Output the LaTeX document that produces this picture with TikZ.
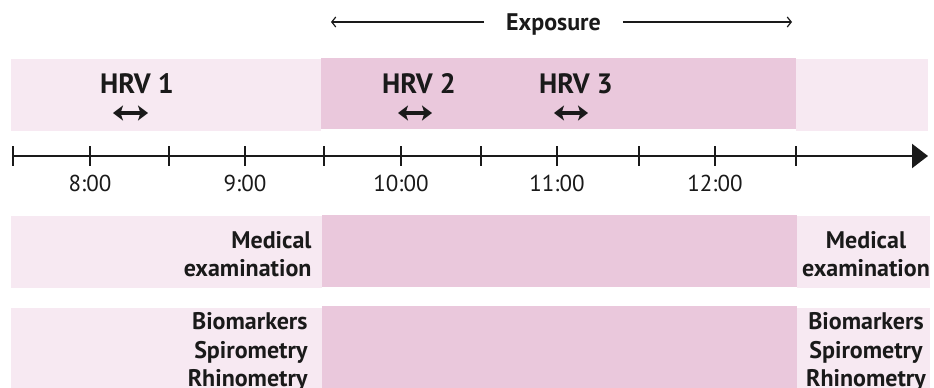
\documentclass[tikz,border=0pt]{standalone}
\usepackage{fontspec}
\setsansfont{PT Sans}
\usetikzlibrary{arrows.meta, positioning}
\definecolor{cpinklight}{HTML}{F7E9F2}
\definecolor{cpink}{HTML}{EAC8DC}
\definecolor{cink}{HTML}{1A1A1A}
\tikzset{
  every picture/.style={font=\sffamily, line width=1pt},
  band/.style={fill=#1, draw=none, inner sep=0pt, outer sep=0pt, anchor=north west},
  band/.default=cpinklight,
  lbl/.style={font=\sffamily\bfseries\fontsize{24}{28.5}\selectfont, text=cink, inner sep=0pt},
  hrv/.style={font=\sffamily\bfseries\fontsize{28}{30}\selectfont, text=cink, inner sep=0pt},
  time/.style={font=\sffamily\fontsize{23}{25}\selectfont, text=cink, inner sep=0pt},
  axis/.style={-{Triangle[length=16pt, width=24pt]}, draw=cink, line width=2.2pt},
  tick/.style={draw=cink, line width=2pt},
  hrvarrow/.style={{Stealth[length=10pt, width=15pt, inset=2.5pt]}-{Stealth[length=10pt, width=15pt, inset=2.5pt]}, draw=cink, line width=3.6pt},
  expo/.style={-{Straight Barb[length=4pt, width=10pt]}, draw=cink, line width=1.2pt},
}

\begin{document}
\begin{tikzpicture}[x=1pt, y=-1pt]
  \useasboundingbox (0,0) rectangle (934,388);
  % pink bands
  \node[band, minimum width=310pt, minimum height=72pt] (hrvL) at (11,59) {};
  \node[band=cpink, minimum width=475pt, minimum height=71pt] (hrvM) at (321,58) {};
  \node[band, minimum width=132pt, minimum height=72pt] (hrvR) at (796,59) {};
  \node[band, minimum width=311pt, minimum height=72pt] (medL) at (11,216) {};
  \node[band=cpink, minimum width=475pt, minimum height=72pt] (medM) at (322,215) {};
  \node[band, minimum width=133pt, minimum height=72pt] (medR) at (797,216) {};
  \node[band, minimum width=311pt, minimum height=80pt] (bioL) at (11,308) {};
  \node[band=cpink, minimum width=475pt, minimum height=82pt] (bioM) at (322,306) {};
  \node[band, minimum width=133pt, minimum height=80pt] (bioR) at (797,308) {};

  % exposure
  \node[lbl, text depth=0pt, outer xsep=22pt] (expo) at (553.5,22) {Exposure};
  \coordinate (expL) at (331,22);
  \coordinate (expR) at (792,22);
  \draw[expo] (expo.west) -- (expL);
  \draw[expo] (expo.east) -- (expR);

  % HRV measurements
  \node[hrv] (hrv1) at (137,84) {HRV 1};
  \node[hrv] (hrv2) at (419,84) {HRV 2};
  \node[hrv] (hrv3) at (576,84) {HRV 3};
  \coordinate (h1a) at (113,113); \coordinate (h1b) at (148,113);
  \coordinate (h2a) at (398,113); \coordinate (h2b) at (432,113);
  \coordinate (h3a) at (554,113); \coordinate (h3b) at (588,113);
  \draw[hrvarrow] (h1a) -- (h1b);
  \draw[hrvarrow] (h2a) -- (h2b);
  \draw[hrvarrow] (h3a) -- (h3b);

  % time axis
  \coordinate (t0) at (13,156);
  \coordinate (tend) at (928,156);
  \draw[axis] (t0) -- (tend);
  \foreach \x in {13,90,169,245,324,401,481,557,639,715,796}
    \draw[tick] (\x,146) -- (\x,166);
  \foreach \x/\t in {90/8,245/9,401/10,557/11,715/12}
    \node[time] (time\t) at (\x,183.5) {\t:00};

  % examinations
  \node[lbl, align=right, anchor=east] (medLt) at (312,254) {Medical\\examination};
  \node[lbl, align=center] (medRt) at (866,254) {Medical\\examination};
  \node[lbl, align=right, anchor=east] (bioLt) at (308,352) {Biomarkers\\Spirometry\\Rhinometry};
  \node[lbl, align=center] (bioRt) at (866,352) {Biomarkers\\Spirometry\\Rhinometry};
\end{tikzpicture}
\end{document}
